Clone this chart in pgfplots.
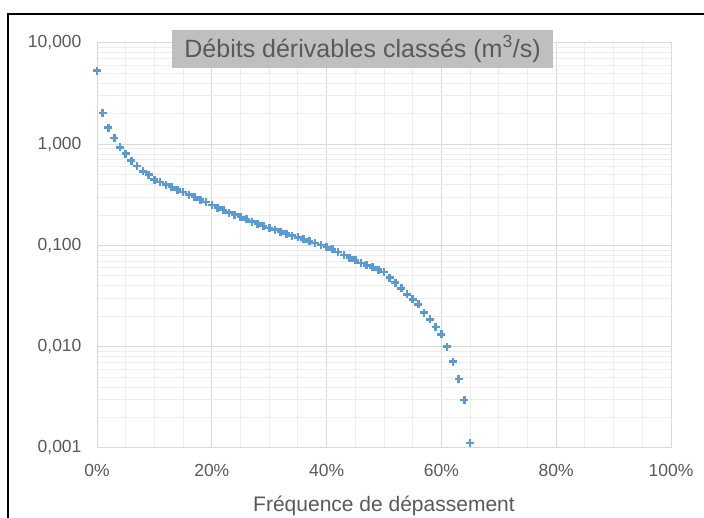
\documentclass[border=0pt]{standalone}
\usepackage{pgfplots}
\pgfplotsset{compat=1.18}
\usepackage{fontspec}
\setmainfont{Liberation Sans}
\definecolor{txt}{HTML}{595959}
\definecolor{mk}{HTML}{5B9BD5}
\definecolor{majg}{HTML}{D9D9D9}
\definecolor{ming}{HTML}{EDEDED}
\definecolor{tbox}{HTML}{BFBFBF}
\pgfplotstableread{
x y
0 5.33
1 2.03
2 1.46
3 1.15
4 0.93
5 0.805
6 0.69
7 0.61
8 0.54
9 0.50
10 0.447
11 0.422
12 0.399
13 0.377
14 0.356
15 0.337
16 0.318
17 0.300
18 0.284
19 0.268
20 0.251
21 0.237
22 0.224
23 0.211
24 0.201
25 0.1905
26 0.181
27 0.172
28 0.164
29 0.156
30 0.149
31 0.143
32 0.137
33 0.131
34 0.1255
35 0.120
36 0.115
37 0.110
38 0.1056
39 0.1011
40 0.0966
41 0.0913
42 0.0859
43 0.0808
44 0.0758
45 0.0713
46 0.0674
47 0.0638
48 0.0607
49 0.0576
50 0.0546
51 0.0481
52 0.0429
53 0.0377
54 0.0329
55 0.0294
56 0.0262
57 0.0217
58 0.0187
59 0.0157
60 0.0133
61 0.0100
62 0.00714
63 0.00479
64 0.00299
65 0.00112
}\debits
\begin{document}
\begin{tikzpicture}[x=1pt,y=1pt]
\useasboundingbox (0,0) rectangle (704,518);
\begin{axis}[
  at={(97pt,70pt)}, anchor=south west,
  scale only axis, width=574pt, height=405pt,
  xmin=0, xmax=100, ymode=log, ymin=0.001, ymax=10,
  xtick={0,20,...,100}, xticklabels={0\%,20\%,40\%,60\%,80\%,100\%},
  minor xtick={5,10,...,95},
  ytick={0.001,0.01,0.1,1,10},
  yticklabels={{0,001},{0,010},{0,100},{1,000},{10,000}},
  grid=both,
  major grid style={majg, line width=1pt},
  minor grid style={ming, line width=1pt},
  major tick length=0pt, minor tick length=0pt,
  axis line style={majg, line width=1pt},
  tick label style={font=\fontsize{17.5}{17.5}\selectfont, text=txt},
  xticklabel style={anchor=center, yshift=-22pt},
  yticklabel style={anchor=east, xshift=-12pt},
  xlabel={Fréquence de dépassement},
  xlabel style={font=\fontsize{21}{21}\selectfont, text=txt, at={(axis description cs:0.5,0)}, anchor=center, yshift=-58pt},
  clip=false,
]
\addplot[only marks, mark=+, mark size=4pt, mk, line width=2.6pt] table[x=x, y=y] {\debits};
\end{axis}
\node[fill=tbox, minimum width=381pt, minimum height=38pt, inner sep=0pt, text=txt, font=\fontsize{25}{25}\selectfont] at (362.5,469) {Débits dérivables classés (m\textsuperscript{3}/s)};
\draw[black, line width=1.5pt] (8,0) -- (8,504) -- (704,504);
\end{tikzpicture}
\end{document}
